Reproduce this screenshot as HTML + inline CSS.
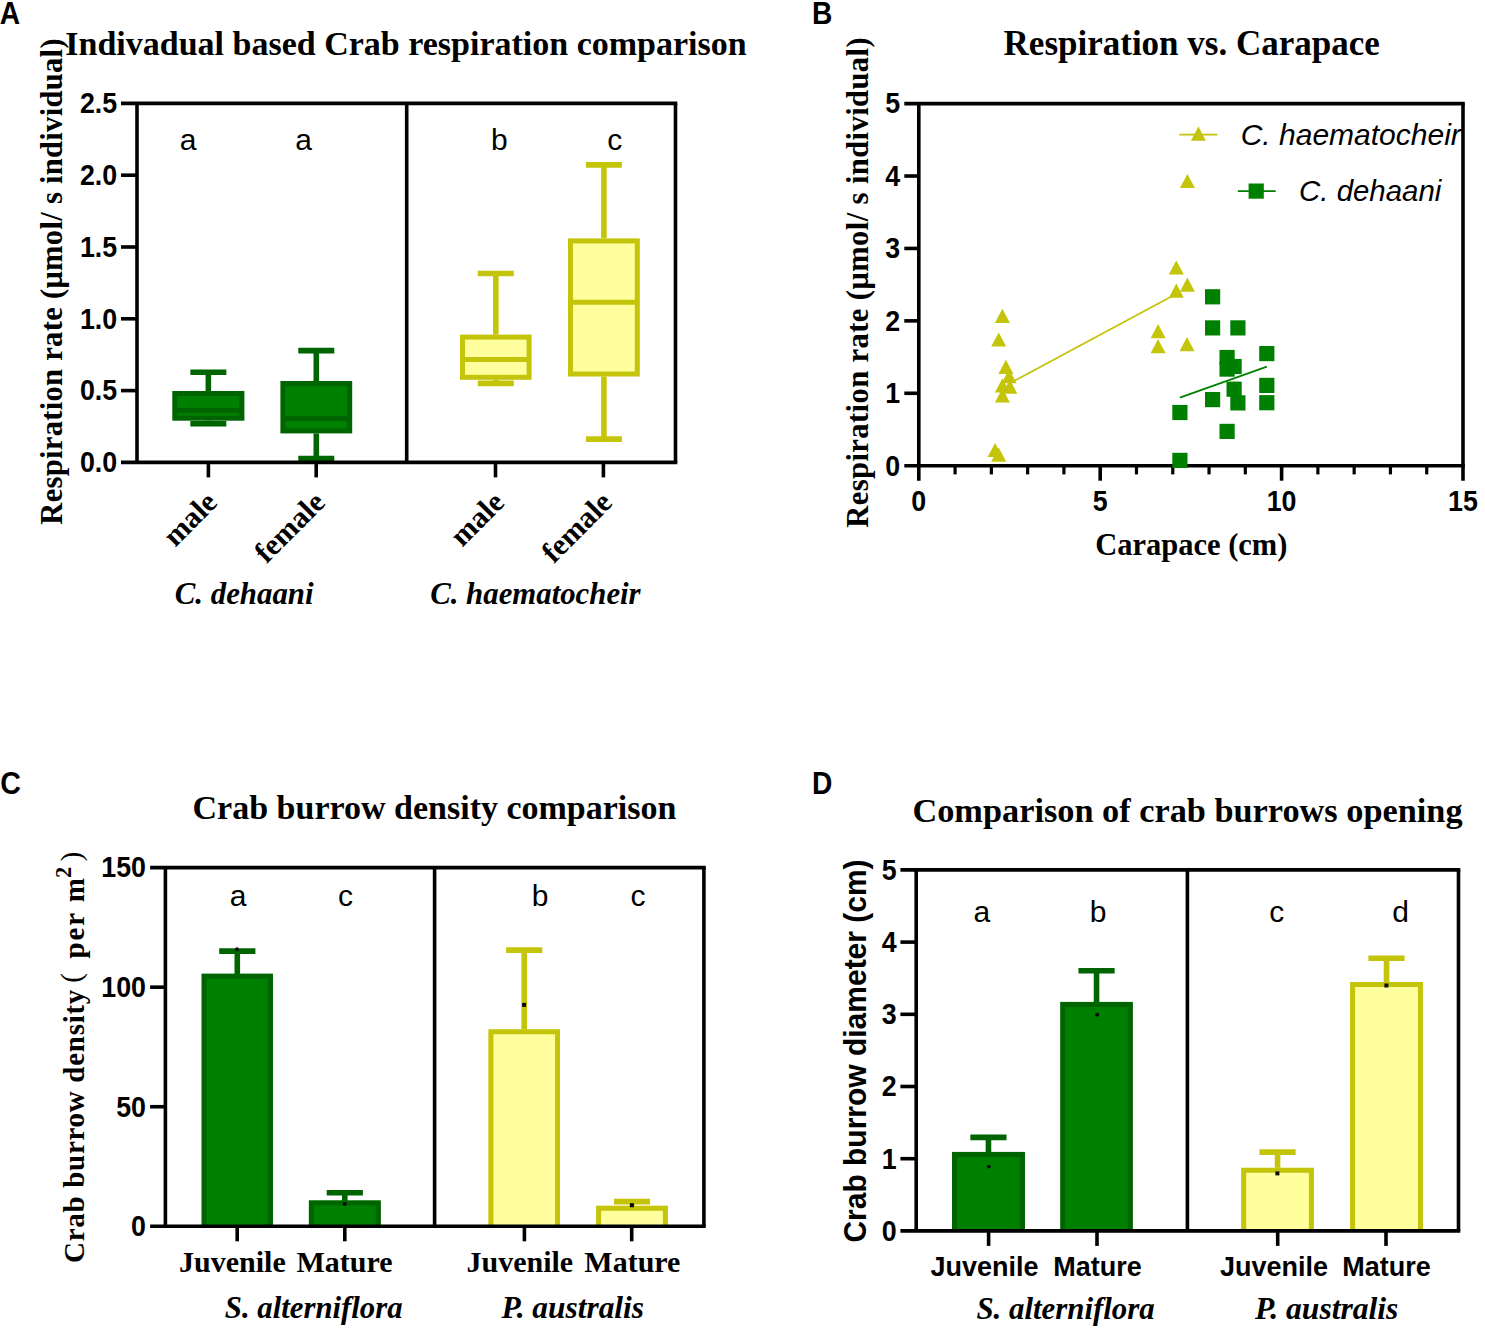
<!DOCTYPE html>
<html><head><meta charset="utf-8"><title>Figure</title>
<style>
html,body{margin:0;padding:0;background:#fff;}
body{width:1485px;height:1336px;overflow:hidden;font-family:"Liberation Sans",sans-serif;}
svg{display:block;}
text{fill:#000;}
</style></head><body>
<svg width="1485" height="1336" viewBox="0 0 1485 1336">
<rect x="0" y="0" width="1485" height="1336" fill="#ffffff"/>
<text transform="translate(-0.20 24.10) scale(1 1.09)" font-family='"Liberation Sans", sans-serif' font-size="28.2" font-weight="bold" font-style="normal" text-anchor="start">A</text>
<text transform="translate(811.90 24.10) scale(1 1.09)" font-family='"Liberation Sans", sans-serif' font-size="28.2" font-weight="bold" font-style="normal" text-anchor="start">B</text>
<text transform="translate(0.30 794.30) scale(1 1.08)" font-family='"Liberation Sans", sans-serif' font-size="28.6" font-weight="bold" font-style="normal" text-anchor="start">C</text>
<text transform="translate(811.90 794.30) scale(1 1.09)" font-family='"Liberation Sans", sans-serif' font-size="28.2" font-weight="bold" font-style="normal" text-anchor="start">D</text>
<line x1="208.35" y1="372.20" x2="208.35" y2="391.00" stroke="#006400" stroke-width="5.6" stroke-linecap="butt"/>
<line x1="208.35" y1="420.70" x2="208.35" y2="423.70" stroke="#006400" stroke-width="5.6" stroke-linecap="butt"/>
<line x1="190.35" y1="372.20" x2="226.35" y2="372.20" stroke="#006400" stroke-width="5.6" stroke-linecap="butt"/>
<line x1="190.35" y1="423.70" x2="226.35" y2="423.70" stroke="#006400" stroke-width="5.6" stroke-linecap="butt"/>
<rect x="174.80" y="393.50" width="67.10" height="24.70" fill="#008000" stroke="#006400" stroke-width="5.0"/>
<line x1="174.80" y1="410.50" x2="241.90" y2="410.50" stroke="#006400" stroke-width="5.0" stroke-linecap="butt"/>
<line x1="316.30" y1="350.60" x2="316.30" y2="381.00" stroke="#006400" stroke-width="5.6" stroke-linecap="butt"/>
<line x1="316.30" y1="433.40" x2="316.30" y2="458.60" stroke="#006400" stroke-width="5.6" stroke-linecap="butt"/>
<line x1="298.30" y1="350.60" x2="334.30" y2="350.60" stroke="#006400" stroke-width="5.6" stroke-linecap="butt"/>
<line x1="298.30" y1="458.60" x2="334.30" y2="458.60" stroke="#006400" stroke-width="5.6" stroke-linecap="butt"/>
<rect x="282.90" y="383.50" width="66.80" height="47.40" fill="#008000" stroke="#006400" stroke-width="5.0"/>
<line x1="282.90" y1="418.50" x2="349.70" y2="418.50" stroke="#006400" stroke-width="5.0" stroke-linecap="butt"/>
<line x1="495.80" y1="273.50" x2="495.80" y2="334.60" stroke="#c4c40a" stroke-width="5.6" stroke-linecap="butt"/>
<line x1="495.80" y1="379.80" x2="495.80" y2="383.40" stroke="#c4c40a" stroke-width="5.6" stroke-linecap="butt"/>
<line x1="477.80" y1="273.50" x2="513.80" y2="273.50" stroke="#c4c40a" stroke-width="5.6" stroke-linecap="butt"/>
<line x1="477.80" y1="383.40" x2="513.80" y2="383.40" stroke="#c4c40a" stroke-width="5.6" stroke-linecap="butt"/>
<rect x="462.50" y="337.10" width="66.60" height="40.20" fill="#ffff9e" stroke="#c4c40a" stroke-width="5.0"/>
<line x1="462.50" y1="359.50" x2="529.10" y2="359.50" stroke="#c4c40a" stroke-width="5.0" stroke-linecap="butt"/>
<line x1="603.90" y1="164.90" x2="603.90" y2="238.40" stroke="#c4c40a" stroke-width="5.6" stroke-linecap="butt"/>
<line x1="603.90" y1="376.50" x2="603.90" y2="439.10" stroke="#c4c40a" stroke-width="5.6" stroke-linecap="butt"/>
<line x1="585.90" y1="164.90" x2="621.90" y2="164.90" stroke="#c4c40a" stroke-width="5.6" stroke-linecap="butt"/>
<line x1="585.90" y1="439.10" x2="621.90" y2="439.10" stroke="#c4c40a" stroke-width="5.6" stroke-linecap="butt"/>
<rect x="570.50" y="240.90" width="66.80" height="133.10" fill="#ffff9e" stroke="#c4c40a" stroke-width="5.0"/>
<line x1="570.50" y1="302.20" x2="637.30" y2="302.20" stroke="#c4c40a" stroke-width="5.0" stroke-linecap="butt"/>
<line x1="121.00" y1="103.40" x2="677.30" y2="103.40" stroke="#000" stroke-width="3.6" stroke-linecap="butt"/>
<line x1="121.00" y1="462.40" x2="677.30" y2="462.40" stroke="#000" stroke-width="3.6" stroke-linecap="butt"/>
<line x1="137.00" y1="103.40" x2="137.00" y2="462.40" stroke="#000" stroke-width="3.6" stroke-linecap="butt"/>
<line x1="675.50" y1="103.40" x2="675.50" y2="462.40" stroke="#000" stroke-width="3.6" stroke-linecap="butt"/>
<line x1="406.70" y1="103.40" x2="406.70" y2="462.40" stroke="#000" stroke-width="3.6" stroke-linecap="butt"/>
<text transform="translate(117.20 472.20) scale(1 1.07)" font-family='"Liberation Sans", sans-serif' font-size="26.8" font-weight="bold" font-style="normal" text-anchor="end">0.0</text>
<line x1="121.00" y1="390.60" x2="137.00" y2="390.60" stroke="#000" stroke-width="3.6" stroke-linecap="butt"/>
<text transform="translate(117.20 400.40) scale(1 1.07)" font-family='"Liberation Sans", sans-serif' font-size="26.8" font-weight="bold" font-style="normal" text-anchor="end">0.5</text>
<line x1="121.00" y1="318.80" x2="137.00" y2="318.80" stroke="#000" stroke-width="3.6" stroke-linecap="butt"/>
<text transform="translate(117.20 328.60) scale(1 1.07)" font-family='"Liberation Sans", sans-serif' font-size="26.8" font-weight="bold" font-style="normal" text-anchor="end">1.0</text>
<line x1="121.00" y1="247.00" x2="137.00" y2="247.00" stroke="#000" stroke-width="3.6" stroke-linecap="butt"/>
<text transform="translate(117.20 256.80) scale(1 1.07)" font-family='"Liberation Sans", sans-serif' font-size="26.8" font-weight="bold" font-style="normal" text-anchor="end">1.5</text>
<line x1="121.00" y1="175.20" x2="137.00" y2="175.20" stroke="#000" stroke-width="3.6" stroke-linecap="butt"/>
<text transform="translate(117.20 185.00) scale(1 1.07)" font-family='"Liberation Sans", sans-serif' font-size="26.8" font-weight="bold" font-style="normal" text-anchor="end">2.0</text>
<text transform="translate(117.20 113.20) scale(1 1.07)" font-family='"Liberation Sans", sans-serif' font-size="26.8" font-weight="bold" font-style="normal" text-anchor="end">2.5</text>
<line x1="208.40" y1="462.40" x2="208.40" y2="477.40" stroke="#000" stroke-width="3.6" stroke-linecap="butt"/>
<line x1="316.20" y1="462.40" x2="316.20" y2="477.40" stroke="#000" stroke-width="3.6" stroke-linecap="butt"/>
<line x1="495.50" y1="462.40" x2="495.50" y2="477.40" stroke="#000" stroke-width="3.6" stroke-linecap="butt"/>
<line x1="603.40" y1="462.40" x2="603.40" y2="477.40" stroke="#000" stroke-width="3.6" stroke-linecap="butt"/>
<text x="188.00" y="150.00" font-family='"Liberation Sans", sans-serif' font-size="30" font-weight="normal" font-style="normal" text-anchor="middle">a</text>
<text x="303.60" y="150.00" font-family='"Liberation Sans", sans-serif' font-size="30" font-weight="normal" font-style="normal" text-anchor="middle">a</text>
<text x="499.40" y="150.00" font-family='"Liberation Sans", sans-serif' font-size="30" font-weight="normal" font-style="normal" text-anchor="middle">b</text>
<text x="614.70" y="150.00" font-family='"Liberation Sans", sans-serif' font-size="30" font-weight="normal" font-style="normal" text-anchor="middle">c</text>
<text x="218.80" y="504.20" font-family='"Liberation Serif", serif' font-size="30" font-weight="bold" font-style="normal" text-anchor="end" transform="rotate(-45 218.80 504.20)">male</text>
<text x="326.60" y="504.20" font-family='"Liberation Serif", serif' font-size="30" font-weight="bold" font-style="normal" text-anchor="end" transform="rotate(-45 326.60 504.20)">female</text>
<text x="505.90" y="504.20" font-family='"Liberation Serif", serif' font-size="30" font-weight="bold" font-style="normal" text-anchor="end" transform="rotate(-45 505.90 504.20)">male</text>
<text x="613.80" y="504.20" font-family='"Liberation Serif", serif' font-size="30" font-weight="bold" font-style="normal" text-anchor="end" transform="rotate(-45 613.80 504.20)">female</text>
<text x="174.80" y="604.30" font-family='"Liberation Serif", serif' font-size="30.5" font-weight="bold" font-style="italic" text-anchor="start" textLength="138.7" lengthAdjust="spacingAndGlyphs">C. dehaani</text>
<text x="430.20" y="604.30" font-family='"Liberation Serif", serif' font-size="30.5" font-weight="bold" font-style="italic" text-anchor="start" textLength="210.4" lengthAdjust="spacingAndGlyphs">C. haematocheir</text>
<text x="406.00" y="54.50" font-family='"Liberation Serif", serif' font-size="34" font-weight="bold" font-style="normal" text-anchor="middle">Indivadual based Crab respiration comparison</text>
<text x="61.80" y="524.70" font-family='"Liberation Serif", serif' font-size="30.6" font-weight="bold" font-style="normal" text-anchor="start" transform="rotate(-90 61.80 524.70)" textLength="486.3" lengthAdjust="spacing">Respiration rate (μmol/ s individual)</text>
<line x1="904.30" y1="103.60" x2="1464.80" y2="103.60" stroke="#000" stroke-width="3.6" stroke-linecap="butt"/>
<line x1="904.30" y1="465.70" x2="1464.80" y2="465.70" stroke="#000" stroke-width="3.6" stroke-linecap="butt"/>
<line x1="918.80" y1="103.60" x2="918.80" y2="480.70" stroke="#000" stroke-width="3.6" stroke-linecap="butt"/>
<line x1="1463.00" y1="103.60" x2="1463.00" y2="480.70" stroke="#000" stroke-width="3.6" stroke-linecap="butt"/>
<text transform="translate(900.20 475.50) scale(1 1.07)" font-family='"Liberation Sans", sans-serif' font-size="26.8" font-weight="bold" font-style="normal" text-anchor="end">0</text>
<line x1="904.30" y1="393.28" x2="918.80" y2="393.28" stroke="#000" stroke-width="3.6" stroke-linecap="butt"/>
<text transform="translate(900.20 403.08) scale(1 1.07)" font-family='"Liberation Sans", sans-serif' font-size="26.8" font-weight="bold" font-style="normal" text-anchor="end">1</text>
<line x1="904.30" y1="320.86" x2="918.80" y2="320.86" stroke="#000" stroke-width="3.6" stroke-linecap="butt"/>
<text transform="translate(900.20 330.66) scale(1 1.07)" font-family='"Liberation Sans", sans-serif' font-size="26.8" font-weight="bold" font-style="normal" text-anchor="end">2</text>
<line x1="904.30" y1="248.44" x2="918.80" y2="248.44" stroke="#000" stroke-width="3.6" stroke-linecap="butt"/>
<text transform="translate(900.20 258.24) scale(1 1.07)" font-family='"Liberation Sans", sans-serif' font-size="26.8" font-weight="bold" font-style="normal" text-anchor="end">3</text>
<line x1="904.30" y1="176.02" x2="918.80" y2="176.02" stroke="#000" stroke-width="3.6" stroke-linecap="butt"/>
<text transform="translate(900.20 185.82) scale(1 1.07)" font-family='"Liberation Sans", sans-serif' font-size="26.8" font-weight="bold" font-style="normal" text-anchor="end">4</text>
<text transform="translate(900.20 113.40) scale(1 1.07)" font-family='"Liberation Sans", sans-serif' font-size="26.8" font-weight="bold" font-style="normal" text-anchor="end">5</text>
<text transform="translate(918.80 511.10) scale(1 1.07)" font-family='"Liberation Sans", sans-serif' font-size="26.8" font-weight="bold" font-style="normal" text-anchor="middle">0</text>
<line x1="955.08" y1="465.70" x2="955.08" y2="474.40" stroke="#000" stroke-width="3.2" stroke-linecap="butt"/>
<line x1="991.36" y1="465.70" x2="991.36" y2="474.40" stroke="#000" stroke-width="3.2" stroke-linecap="butt"/>
<line x1="1027.64" y1="465.70" x2="1027.64" y2="474.40" stroke="#000" stroke-width="3.2" stroke-linecap="butt"/>
<line x1="1063.92" y1="465.70" x2="1063.92" y2="474.40" stroke="#000" stroke-width="3.2" stroke-linecap="butt"/>
<line x1="1100.20" y1="465.70" x2="1100.20" y2="480.70" stroke="#000" stroke-width="3.6" stroke-linecap="butt"/>
<text transform="translate(1100.20 511.10) scale(1 1.07)" font-family='"Liberation Sans", sans-serif' font-size="26.8" font-weight="bold" font-style="normal" text-anchor="middle">5</text>
<line x1="1136.48" y1="465.70" x2="1136.48" y2="474.40" stroke="#000" stroke-width="3.2" stroke-linecap="butt"/>
<line x1="1172.76" y1="465.70" x2="1172.76" y2="474.40" stroke="#000" stroke-width="3.2" stroke-linecap="butt"/>
<line x1="1209.04" y1="465.70" x2="1209.04" y2="474.40" stroke="#000" stroke-width="3.2" stroke-linecap="butt"/>
<line x1="1245.32" y1="465.70" x2="1245.32" y2="474.40" stroke="#000" stroke-width="3.2" stroke-linecap="butt"/>
<line x1="1281.60" y1="465.70" x2="1281.60" y2="480.70" stroke="#000" stroke-width="3.6" stroke-linecap="butt"/>
<text transform="translate(1281.60 511.10) scale(1 1.07)" font-family='"Liberation Sans", sans-serif' font-size="26.8" font-weight="bold" font-style="normal" text-anchor="middle">10</text>
<line x1="1317.88" y1="465.70" x2="1317.88" y2="474.40" stroke="#000" stroke-width="3.2" stroke-linecap="butt"/>
<line x1="1354.16" y1="465.70" x2="1354.16" y2="474.40" stroke="#000" stroke-width="3.2" stroke-linecap="butt"/>
<line x1="1390.44" y1="465.70" x2="1390.44" y2="474.40" stroke="#000" stroke-width="3.2" stroke-linecap="butt"/>
<line x1="1426.72" y1="465.70" x2="1426.72" y2="474.40" stroke="#000" stroke-width="3.2" stroke-linecap="butt"/>
<text transform="translate(1463.00 511.10) scale(1 1.07)" font-family='"Liberation Sans", sans-serif' font-size="26.8" font-weight="bold" font-style="normal" text-anchor="middle">15</text>
<line x1="1011.00" y1="382.60" x2="1176.50" y2="293.80" stroke="#c4c40a" stroke-width="1.7" stroke-linecap="butt"/>
<line x1="1179.90" y1="397.60" x2="1266.90" y2="366.60" stroke="#008000" stroke-width="1.7" stroke-linecap="butt"/>
<polygon points="1002.40,308.80 1009.90,323.00 994.90,323.00" fill="#c4c40a"/>
<polygon points="998.70,332.40 1006.20,346.60 991.20,346.60" fill="#c4c40a"/>
<polygon points="1005.90,359.70 1013.40,373.90 998.40,373.90" fill="#c4c40a"/>
<polygon points="1009.10,369.00 1016.60,383.20 1001.60,383.20" fill="#c4c40a"/>
<polygon points="1002.40,378.20 1009.90,392.40 994.90,392.40" fill="#c4c40a"/>
<polygon points="1009.80,379.60 1017.30,393.80 1002.30,393.80" fill="#c4c40a"/>
<polygon points="1002.40,388.20 1009.90,402.40 994.90,402.40" fill="#c4c40a"/>
<polygon points="995.10,442.90 1002.60,457.10 987.60,457.10" fill="#c4c40a"/>
<polygon points="998.70,447.60 1006.20,461.80 991.20,461.80" fill="#c4c40a"/>
<polygon points="1176.30,260.40 1183.80,274.60 1168.80,274.60" fill="#c4c40a"/>
<polygon points="1176.30,283.50 1183.80,297.70 1168.80,297.70" fill="#c4c40a"/>
<polygon points="1187.40,277.60 1194.90,291.80 1179.90,291.80" fill="#c4c40a"/>
<polygon points="1158.10,324.10 1165.60,338.30 1150.60,338.30" fill="#c4c40a"/>
<polygon points="1158.10,339.10 1165.60,353.30 1150.60,353.30" fill="#c4c40a"/>
<polygon points="1187.00,337.10 1194.50,351.30 1179.50,351.30" fill="#c4c40a"/>
<polygon points="1187.40,173.90 1194.90,188.10 1179.90,188.10" fill="#c4c40a"/>
<rect x="1205.00" y="289.20" width="15.20" height="15.20" fill="#008000"/>
<rect x="1205.00" y="320.30" width="15.20" height="15.20" fill="#008000"/>
<rect x="1230.30" y="320.30" width="15.20" height="15.20" fill="#008000"/>
<rect x="1259.20" y="346.00" width="15.20" height="15.20" fill="#008000"/>
<rect x="1219.50" y="349.90" width="15.20" height="15.20" fill="#008000"/>
<rect x="1219.50" y="361.50" width="15.20" height="15.20" fill="#008000"/>
<rect x="1226.50" y="358.90" width="15.20" height="15.20" fill="#008000"/>
<rect x="1259.20" y="377.80" width="15.20" height="15.20" fill="#008000"/>
<rect x="1226.50" y="381.60" width="15.20" height="15.20" fill="#008000"/>
<rect x="1205.00" y="392.00" width="15.20" height="15.20" fill="#008000"/>
<rect x="1230.30" y="395.30" width="15.20" height="15.20" fill="#008000"/>
<rect x="1259.20" y="395.10" width="15.20" height="15.20" fill="#008000"/>
<rect x="1172.30" y="404.90" width="15.20" height="15.20" fill="#008000"/>
<rect x="1219.50" y="423.80" width="15.20" height="15.20" fill="#008000"/>
<rect x="1172.30" y="452.80" width="15.20" height="15.20" fill="#008000"/>
<line x1="1179.40" y1="134.70" x2="1217.30" y2="134.70" stroke="#c4c40a" stroke-width="1.7" stroke-linecap="butt"/>
<polygon points="1198.40,126.50 1205.90,140.70 1190.90,140.70" fill="#c4c40a"/>
<line x1="1237.80" y1="191.10" x2="1275.70" y2="191.10" stroke="#008000" stroke-width="1.7" stroke-linecap="butt"/>
<rect x="1248.60" y="183.50" width="15.20" height="15.20" fill="#008000"/>
<text x="1240.70" y="144.70" font-family='"Liberation Sans", sans-serif' font-size="30" font-weight="normal" font-style="italic" text-anchor="start">C. haematocheir</text>
<text x="1299.10" y="200.70" font-family='"Liberation Sans", sans-serif' font-size="29.4" font-weight="normal" font-style="italic" text-anchor="start">C. dehaani</text>
<text x="1191.70" y="54.60" font-family='"Liberation Serif", serif' font-size="35" font-weight="bold" font-style="normal" text-anchor="middle">Respiration vs. Carapace</text>
<text x="1191.30" y="555.20" font-family='"Liberation Serif", serif' font-size="30.5" font-weight="bold" font-style="normal" text-anchor="middle">Carapace (cm)</text>
<text x="868.20" y="527.70" font-family='"Liberation Serif", serif' font-size="30.6" font-weight="bold" font-style="normal" text-anchor="start" transform="rotate(-90 868.20 527.70)" textLength="490.3" lengthAdjust="spacing">Respiration rate (μmol/ s individual)</text>
<line x1="237.30" y1="951.10" x2="237.30" y2="976.30" stroke="#006400" stroke-width="5.6" stroke-linecap="butt"/>
<line x1="219.20" y1="951.10" x2="255.40" y2="951.10" stroke="#006400" stroke-width="5.6" stroke-linecap="butt"/>
<rect x="201.70" y="973.80" width="71.20" height="252.50" fill="#008000"/>
<path d="M204.20,1226.30 V976.30 H270.40 V1226.30" fill="none" stroke="#006400" stroke-width="5.0"/>
<circle cx="237.00" cy="949.30" r="1.95" fill="#0a0a0a"/>
<line x1="344.80" y1="1192.70" x2="344.80" y2="1203.00" stroke="#006400" stroke-width="5.6" stroke-linecap="butt"/>
<line x1="326.70" y1="1192.70" x2="362.90" y2="1192.70" stroke="#006400" stroke-width="5.6" stroke-linecap="butt"/>
<rect x="308.90" y="1200.50" width="71.80" height="25.80" fill="#008000"/>
<path d="M311.40,1226.30 V1203.00 H378.20 V1226.30" fill="none" stroke="#006400" stroke-width="5.0"/>
<circle cx="344.80" cy="1204.00" r="1.95" fill="#0a0a0a"/>
<line x1="524.20" y1="950.10" x2="524.20" y2="1031.80" stroke="#c4c40a" stroke-width="5.6" stroke-linecap="butt"/>
<line x1="506.10" y1="950.10" x2="542.30" y2="950.10" stroke="#c4c40a" stroke-width="5.6" stroke-linecap="butt"/>
<rect x="488.40" y="1029.30" width="71.60" height="197.00" fill="#ffff9e"/>
<path d="M490.90,1226.30 V1031.80 H557.50 V1226.30" fill="none" stroke="#c4c40a" stroke-width="5.0"/>
<rect x="522.10" y="1002.90" width="4.0" height="4.0" fill="#0a0a0a"/>
<line x1="632.00" y1="1201.60" x2="632.00" y2="1208.20" stroke="#c4c40a" stroke-width="5.6" stroke-linecap="butt"/>
<line x1="613.90" y1="1201.60" x2="650.10" y2="1201.60" stroke="#c4c40a" stroke-width="5.6" stroke-linecap="butt"/>
<rect x="596.10" y="1205.70" width="71.80" height="20.60" fill="#ffff9e"/>
<path d="M598.60,1226.30 V1208.20 H665.40 V1226.30" fill="none" stroke="#c4c40a" stroke-width="5.0"/>
<rect x="629.90" y="1203.20" width="4.0" height="4.0" fill="#0a0a0a"/>
<line x1="150.10" y1="867.60" x2="705.70" y2="867.60" stroke="#000" stroke-width="3.6" stroke-linecap="butt"/>
<line x1="150.10" y1="1226.30" x2="705.70" y2="1226.30" stroke="#000" stroke-width="3.6" stroke-linecap="butt"/>
<line x1="165.40" y1="867.60" x2="165.40" y2="1226.30" stroke="#000" stroke-width="3.6" stroke-linecap="butt"/>
<line x1="703.90" y1="867.60" x2="703.90" y2="1226.30" stroke="#000" stroke-width="3.6" stroke-linecap="butt"/>
<line x1="434.60" y1="867.60" x2="434.60" y2="1226.30" stroke="#000" stroke-width="3.6" stroke-linecap="butt"/>
<text transform="translate(146.00 1236.10) scale(1 1.07)" font-family='"Liberation Sans", sans-serif' font-size="26.8" font-weight="bold" font-style="normal" text-anchor="end">0</text>
<line x1="150.10" y1="1106.73" x2="165.40" y2="1106.73" stroke="#000" stroke-width="3.6" stroke-linecap="butt"/>
<text transform="translate(146.00 1116.53) scale(1 1.07)" font-family='"Liberation Sans", sans-serif' font-size="26.8" font-weight="bold" font-style="normal" text-anchor="end">50</text>
<line x1="150.10" y1="987.17" x2="165.40" y2="987.17" stroke="#000" stroke-width="3.6" stroke-linecap="butt"/>
<text transform="translate(146.00 996.97) scale(1 1.07)" font-family='"Liberation Sans", sans-serif' font-size="26.8" font-weight="bold" font-style="normal" text-anchor="end">100</text>
<text transform="translate(146.00 877.40) scale(1 1.07)" font-family='"Liberation Sans", sans-serif' font-size="26.8" font-weight="bold" font-style="normal" text-anchor="end">150</text>
<line x1="237.20" y1="1226.30" x2="237.20" y2="1241.30" stroke="#000" stroke-width="3.6" stroke-linecap="butt"/>
<line x1="344.80" y1="1226.30" x2="344.80" y2="1241.30" stroke="#000" stroke-width="3.6" stroke-linecap="butt"/>
<line x1="524.40" y1="1226.30" x2="524.40" y2="1241.30" stroke="#000" stroke-width="3.6" stroke-linecap="butt"/>
<line x1="631.70" y1="1226.30" x2="631.70" y2="1241.30" stroke="#000" stroke-width="3.6" stroke-linecap="butt"/>
<text x="238.20" y="905.90" font-family='"Liberation Sans", sans-serif' font-size="30" font-weight="normal" font-style="normal" text-anchor="middle">a</text>
<text x="345.40" y="905.90" font-family='"Liberation Sans", sans-serif' font-size="30" font-weight="normal" font-style="normal" text-anchor="middle">c</text>
<text x="540.00" y="905.90" font-family='"Liberation Sans", sans-serif' font-size="30" font-weight="normal" font-style="normal" text-anchor="middle">b</text>
<text x="638.00" y="905.90" font-family='"Liberation Sans", sans-serif' font-size="30" font-weight="normal" font-style="normal" text-anchor="middle">c</text>
<text x="232.40" y="1271.90" font-family='"Liberation Serif", serif' font-size="30" font-weight="bold" font-style="normal" text-anchor="middle">Juvenile</text>
<text x="344.50" y="1271.90" font-family='"Liberation Serif", serif' font-size="30" font-weight="bold" font-style="normal" text-anchor="middle">Mature</text>
<text x="519.80" y="1271.90" font-family='"Liberation Serif", serif' font-size="30" font-weight="bold" font-style="normal" text-anchor="middle">Juvenile</text>
<text x="632.40" y="1271.90" font-family='"Liberation Serif", serif' font-size="30" font-weight="bold" font-style="normal" text-anchor="middle">Mature</text>
<text x="224.80" y="1318.00" font-family='"Liberation Serif", serif' font-size="30.7" font-weight="bold" font-style="italic" text-anchor="start" textLength="177.8" lengthAdjust="spacingAndGlyphs">S. alterniflora</text>
<text x="501.50" y="1318.00" font-family='"Liberation Serif", serif' font-size="30.7" font-weight="bold" font-style="italic" text-anchor="start" textLength="142.5" lengthAdjust="spacingAndGlyphs">P. australis</text>
<text x="434.50" y="818.70" font-family='"Liberation Serif", serif' font-size="34" font-weight="bold" font-style="normal" text-anchor="middle">Crab burrow density comparison</text>
<g transform="translate(83.8 1263.0) rotate(-90)" font-family='"Liberation Serif", serif' font-weight="bold" font-size="29.0"><text x="0" y="0" textLength="273.3" lengthAdjust="spacing">Crab burrow density</text><text x="280.3" y="-3.1" font-size="29.5" font-weight="normal">(</text><text x="304.5" y="0" textLength="80.5" lengthAdjust="spacing">per m</text><text x="385.1" y="-12.9" font-size="22.5">2</text><text x="401.5" y="-3.1" font-size="29.5" font-weight="normal">)</text></g>
<line x1="988.45" y1="1137.40" x2="988.45" y2="1154.40" stroke="#006400" stroke-width="5.6" stroke-linecap="butt"/>
<line x1="970.35" y1="1137.40" x2="1006.55" y2="1137.40" stroke="#006400" stroke-width="5.6" stroke-linecap="butt"/>
<rect x="952.00" y="1151.90" width="72.90" height="79.00" fill="#008000"/>
<path d="M954.50,1230.90 V1154.40 H1022.40 V1230.90" fill="none" stroke="#006400" stroke-width="5.0"/>
<circle cx="988.80" cy="1166.60" r="1.95" fill="#0a0a0a"/>
<line x1="1096.55" y1="970.80" x2="1096.55" y2="1004.40" stroke="#006400" stroke-width="5.6" stroke-linecap="butt"/>
<line x1="1078.45" y1="970.80" x2="1114.65" y2="970.80" stroke="#006400" stroke-width="5.6" stroke-linecap="butt"/>
<rect x="1060.40" y="1001.90" width="72.30" height="229.00" fill="#008000"/>
<path d="M1062.90,1230.90 V1004.40 H1130.20 V1230.90" fill="none" stroke="#006400" stroke-width="5.0"/>
<circle cx="1097.20" cy="1014.80" r="1.95" fill="#0a0a0a"/>
<line x1="1277.55" y1="1152.10" x2="1277.55" y2="1170.30" stroke="#c4c40a" stroke-width="5.6" stroke-linecap="butt"/>
<line x1="1259.45" y1="1152.10" x2="1295.65" y2="1152.10" stroke="#c4c40a" stroke-width="5.6" stroke-linecap="butt"/>
<rect x="1241.20" y="1167.80" width="72.70" height="63.10" fill="#ffff9e"/>
<path d="M1243.70,1230.90 V1170.30 H1311.40 V1230.90" fill="none" stroke="#c4c40a" stroke-width="5.0"/>
<rect x="1275.40" y="1171.40" width="4.0" height="4.0" fill="#0a0a0a"/>
<line x1="1386.50" y1="958.20" x2="1386.50" y2="984.50" stroke="#c4c40a" stroke-width="5.6" stroke-linecap="butt"/>
<line x1="1368.40" y1="958.20" x2="1404.60" y2="958.20" stroke="#c4c40a" stroke-width="5.6" stroke-linecap="butt"/>
<rect x="1350.10" y="982.00" width="72.80" height="248.90" fill="#ffff9e"/>
<path d="M1352.60,1230.90 V984.50 H1420.40 V1230.90" fill="none" stroke="#c4c40a" stroke-width="5.0"/>
<rect x="1384.40" y="983.50" width="4.0" height="4.0" fill="#0a0a0a"/>
<line x1="900.40" y1="869.90" x2="1460.30" y2="869.90" stroke="#000" stroke-width="3.6" stroke-linecap="butt"/>
<line x1="900.40" y1="1230.90" x2="1460.30" y2="1230.90" stroke="#000" stroke-width="3.6" stroke-linecap="butt"/>
<line x1="916.20" y1="869.90" x2="916.20" y2="1230.90" stroke="#000" stroke-width="3.6" stroke-linecap="butt"/>
<line x1="1458.50" y1="869.90" x2="1458.50" y2="1230.90" stroke="#000" stroke-width="3.6" stroke-linecap="butt"/>
<line x1="1187.40" y1="869.90" x2="1187.40" y2="1230.90" stroke="#000" stroke-width="3.6" stroke-linecap="butt"/>
<text transform="translate(896.70 1240.70) scale(1 1.07)" font-family='"Liberation Sans", sans-serif' font-size="26.8" font-weight="bold" font-style="normal" text-anchor="end">0</text>
<line x1="900.40" y1="1158.70" x2="916.20" y2="1158.70" stroke="#000" stroke-width="3.6" stroke-linecap="butt"/>
<text transform="translate(896.70 1168.50) scale(1 1.07)" font-family='"Liberation Sans", sans-serif' font-size="26.8" font-weight="bold" font-style="normal" text-anchor="end">1</text>
<line x1="900.40" y1="1086.50" x2="916.20" y2="1086.50" stroke="#000" stroke-width="3.6" stroke-linecap="butt"/>
<text transform="translate(896.70 1096.30) scale(1 1.07)" font-family='"Liberation Sans", sans-serif' font-size="26.8" font-weight="bold" font-style="normal" text-anchor="end">2</text>
<line x1="900.40" y1="1014.30" x2="916.20" y2="1014.30" stroke="#000" stroke-width="3.6" stroke-linecap="butt"/>
<text transform="translate(896.70 1024.10) scale(1 1.07)" font-family='"Liberation Sans", sans-serif' font-size="26.8" font-weight="bold" font-style="normal" text-anchor="end">3</text>
<line x1="900.40" y1="942.10" x2="916.20" y2="942.10" stroke="#000" stroke-width="3.6" stroke-linecap="butt"/>
<text transform="translate(896.70 951.90) scale(1 1.07)" font-family='"Liberation Sans", sans-serif' font-size="26.8" font-weight="bold" font-style="normal" text-anchor="end">4</text>
<text transform="translate(896.70 879.70) scale(1 1.07)" font-family='"Liberation Sans", sans-serif' font-size="26.8" font-weight="bold" font-style="normal" text-anchor="end">5</text>
<line x1="988.60" y1="1230.90" x2="988.60" y2="1245.90" stroke="#000" stroke-width="3.6" stroke-linecap="butt"/>
<line x1="1097.00" y1="1230.90" x2="1097.00" y2="1245.90" stroke="#000" stroke-width="3.6" stroke-linecap="butt"/>
<line x1="1277.70" y1="1230.90" x2="1277.70" y2="1245.90" stroke="#000" stroke-width="3.6" stroke-linecap="butt"/>
<line x1="1386.00" y1="1230.90" x2="1386.00" y2="1245.90" stroke="#000" stroke-width="3.6" stroke-linecap="butt"/>
<text x="981.80" y="922.40" font-family='"Liberation Sans", sans-serif' font-size="30" font-weight="normal" font-style="normal" text-anchor="middle">a</text>
<text x="1098.20" y="922.40" font-family='"Liberation Sans", sans-serif' font-size="30" font-weight="normal" font-style="normal" text-anchor="middle">b</text>
<text x="1276.70" y="922.40" font-family='"Liberation Sans", sans-serif' font-size="30" font-weight="normal" font-style="normal" text-anchor="middle">c</text>
<text x="1400.50" y="922.40" font-family='"Liberation Sans", sans-serif' font-size="30" font-weight="normal" font-style="normal" text-anchor="middle">d</text>
<text transform="translate(984.50 1275.60) scale(1 1.04)" font-family='"Liberation Sans", sans-serif' font-size="27" font-weight="bold" font-style="normal" text-anchor="middle">Juvenile</text>
<text transform="translate(1097.40 1275.60) scale(1 1.04)" font-family='"Liberation Sans", sans-serif' font-size="27" font-weight="bold" font-style="normal" text-anchor="middle">Mature</text>
<text transform="translate(1273.90 1275.60) scale(1 1.04)" font-family='"Liberation Sans", sans-serif' font-size="27" font-weight="bold" font-style="normal" text-anchor="middle">Juvenile</text>
<text transform="translate(1386.60 1275.60) scale(1 1.04)" font-family='"Liberation Sans", sans-serif' font-size="27" font-weight="bold" font-style="normal" text-anchor="middle">Mature</text>
<text x="976.40" y="1319.00" font-family='"Liberation Serif", serif' font-size="30.7" font-weight="bold" font-style="italic" text-anchor="start" textLength="178.3" lengthAdjust="spacingAndGlyphs">S. alterniflora</text>
<text x="1255.00" y="1319.00" font-family='"Liberation Serif", serif' font-size="30.7" font-weight="bold" font-style="italic" text-anchor="start" textLength="143.4" lengthAdjust="spacingAndGlyphs">P. australis</text>
<text x="1187.50" y="822.40" font-family='"Liberation Serif", serif' font-size="34.3" font-weight="bold" font-style="normal" text-anchor="middle">Comparison of crab burrows opening</text>
<text transform="translate(866.3 1051.0) rotate(-90) scale(1 1.07)" font-family='"Liberation Sans", sans-serif' font-size="30" font-weight="bold" text-anchor="middle">Crab burrow diameter (cm)</text>
</svg>
</body></html>
